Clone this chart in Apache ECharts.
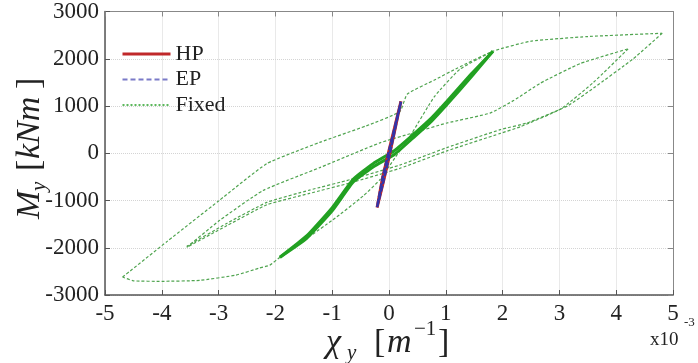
<!DOCTYPE html>
<html>
<head>
<meta charset="utf-8">
<script src="https://cdn.jsdelivr.net/npm/echarts@6/dist/echarts.min.js"></script>
<style>
  html, body { margin: 0; padding: 0; background: #fff; }
  #content { width: 698px; height: 363px; }
</style>
</head>
<body>
<div id="content"></div>
<script>
// curvature in 1e-3 1/m, moment in kNm

// HP / EP : small cycle around the origin
var hpChi = [-0.21, -0.1, 0.0, 0.1, 0.21, 0.11, 0.0, -0.11, -0.21];
var hpMom = [-1150, -610, -90, 470, 1100, 600, 60, -500, -1150];
var epChi = [-0.21, -0.1, 0.0, 0.1, 0.21, 0.11, 0.0, -0.11, -0.21];
var epMom = [-1140, -600, -80, 480, 1090, 590, 50, -510, -1140];

// Fixed : big cycle, loading branch (from -4.7 up to +4.8)
var bigLoadChi = [-4.69, -3.9, -3.0, -2.15, -1.22, -0.4, 0.19, 0.32, 0.8, 1.2, 1.83, 2.49, 3.5, 4.81];
var bigLoadMom = [-2620, -1860, -1010, -220, 230, 580, 880, 1250, 1550, 1800, 2160, 2370, 2470, 2540];
// Fixed : big cycle, unloading branch
var bigUnloadChi = [4.81, 4.3, 3.6, 3.14, 2.43, 1.96, 1.02, 0.19, -0.69, -1.4, -2.15, -2.85, -3.56];
var bigUnloadMom = [2540, 2000, 1380, 1000, 640, 500, 120, -250, -560, -780, -1040, -1480, -1970];
// Fixed : big cycle, bottom branch
var bigBottomChi = [-1.92, -2.1, -2.28, -2.7, -3.33, -4.0, -4.5, -4.69];
var bigBottomMom = [-2200, -2370, -2430, -2580, -2690, -2710, -2700, -2620];
// Fixed : second cycle (-3.6 .. +4.2)
var midLoadChi = [-3.56, -2.98, -2.22, -1.22, -0.16, 0.42, 1.02, 1.78, 2.2, 2.66, 3.37, 4.21];
var midLoadMom = [-1990, -1420, -790, -305, 220, 430, 640, 850, 1120, 1480, 1900, 2210];
var midUnloadChi = [4.21, 3.6, 3.02, 2.31, 1.96, 1.02, 0.19, -0.69, -1.4, -2.15, -2.85, -3.56];
var midUnloadMom = [2210, 1500, 935, 560, 420, 50, -320, -630, -850, -1090, -1530, -1990];
// Fixed : inner cycles (thick band, -1.9 .. +1.8)
var bandChi = [-1.92, -1.45, -1.0, -0.63, -0.28, 0.1, 0.42, 0.75, 1.02, 1.45, 1.83];
var bandUpMom = [-2200, -1750, -1150, -550, -220, 60, 390, 750, 1100, 1680, 2160];
var bandDnMom = [-2200, -1800, -1220, -610, -290, -20, 320, 680, 1030, 1620, 2160];
var steepChi = [-1.92, -1.0, -0.45, -0.16, 0.0, 0.4, 0.8, 1.25, 1.83];
var steepMom = [-2200, -1420, -900, -560, -280, 420, 1200, 1780, 2160];

var xTicks = [-5, -4, -3, -2, -1, 0, 1, 2, 3, 4, 5];
var yTicks = [-3000, -2000, -1000, 0, 1000, 2000, 3000];

var serif = 'Liberation Serif';

function pts(xs, ys) {
    return xs.map(function(x, i) { return [x, ys[i]]; });
}

function fixedLine(xs, ys, width, color, type) {
    return {
        name: 'Fixed',
        type: 'line',
        data: pts(xs, ys),
        symbol: 'none',
        smooth: 0.15,
        silent: true,
        lineStyle: { color: color, width: width, type: type },
        itemStyle: { color: color }
    };
}

function txt(x, y, s, font) {
    return { type: 'text', x: x, y: y, style: { text: s, font: font, fill: '#222', textVerticalAlign: 'middle' } };
}

var myChart = echarts.init(document.getElementById('content'), null, { renderer: 'canvas' });

var dashGreen = '#4fa44f';
var bandGreen = '#22a122';

myChart.setOption({
    animation: false,
    backgroundColor: '#fff',
    textStyle: { fontFamily: serif },
    grid: { left: 105, right: 25, top: 10, bottom: 68 },
    legend: {
        data: [
            { name: 'HP', lineStyle: { color: '#c0282a', width: 3 } },
            { name: 'EP', lineStyle: { color: '#7a7ac8', width: 2, type: [5, 3] } },
            { name: 'Fixed', lineStyle: { color: '#5cb85c', width: 2, type: [2, 2] } }
        ],
        orient: 'vertical',
        left: 116,
        top: 38,
        itemWidth: 48,
        itemHeight: 14,
        itemGap: 3.5,
        itemStyle: { opacity: 0 },
        textStyle: { fontFamily: serif, fontSize: 22, color: '#222', lineHeight: 22 }
    },
    xAxis: [{
        type: 'value',
        min: xTicks[0],
        max: xTicks[xTicks.length - 1],
        interval: 1,
        position: 'bottom',
        axisLine: { show: true, onZero: false, lineStyle: { color: '#555', width: 1.5 } },
        axisTick: { inside: true, length: 5, lineStyle: { color: '#555' } },
        axisLabel: { fontFamily: serif, fontSize: 23, color: '#222', margin: 7,
            formatter: function(v) { return String(v); } },
        splitLine: { show: true, lineStyle: { type: 'dotted', color: '#d4d4d4' } }
    }, {
        type: 'value',
        min: xTicks[0],
        max: xTicks[xTicks.length - 1],
        interval: 1,
        position: 'top',
        axisLine: { show: true, onZero: false, lineStyle: { color: '#888', width: 1 } },
        axisTick: { inside: true, length: 5, lineStyle: { color: '#888' } },
        axisLabel: { show: false },
        splitLine: { show: false }
    }],
    yAxis: [{
        type: 'value',
        min: yTicks[0],
        max: yTicks[yTicks.length - 1],
        interval: 1000,
        position: 'left',
        axisLine: { show: true, onZero: false, lineStyle: { color: '#555', width: 1.5 } },
        axisTick: { inside: true, length: 5, lineStyle: { color: '#555' } },
        axisLabel: { fontFamily: serif, fontSize: 23, color: '#222', margin: 6,
            formatter: function(v) { return String(v); } },
        splitLine: { show: true, lineStyle: { type: 'dotted', color: '#d4d4d4' } }
    }, {
        type: 'value',
        min: yTicks[0],
        max: yTicks[yTicks.length - 1],
        interval: 1000,
        position: 'right',
        axisLine: { show: true, onZero: false, lineStyle: { color: '#888', width: 1 } },
        axisTick: { inside: true, length: 5, lineStyle: { color: '#888' } },
        axisLabel: { show: false },
        splitLine: { show: false }
    }],
    series: [
        fixedLine(bigLoadChi, bigLoadMom, 1.2, dashGreen, [3, 2]),
        fixedLine(bigUnloadChi, bigUnloadMom, 1.2, dashGreen, [3, 2]),
        fixedLine(bigBottomChi, bigBottomMom, 1.2, dashGreen, [3, 2]),
        fixedLine(midLoadChi, midLoadMom, 1.2, dashGreen, [3, 2]),
        fixedLine(midUnloadChi, midUnloadMom, 1.2, dashGreen, [3, 2]),
        fixedLine(steepChi, steepMom, 1.2, dashGreen, [3, 2]),
        fixedLine(bandChi, bandUpMom, 3, bandGreen, 'solid'),
        fixedLine(bandChi, bandDnMom, 3, bandGreen, 'solid'),
        {
            name: 'HP',
            type: 'line',
            data: pts(hpChi, hpMom),
            symbol: 'none',
            silent: true,
            lineStyle: { color: '#c0282a', width: 3 },
            itemStyle: { color: '#c0282a' }
        },
        {
            name: 'EP',
            type: 'line',
            data: pts(epChi, epMom),
            symbol: 'none',
            silent: true,
            lineStyle: { color: '#3434a8', width: 2.5, type: [6, 2] },
            itemStyle: { color: '#3434a8' }
        }
    ],
    graphic: [
        // y axis title: M_y [kNm]
        {
            type: 'group',
            x: 30,
            y: 147,
            rotation: Math.PI / 2,
            children: [
                txt(-72, 0, 'M', 'italic 34px Liberation Serif'),
                txt(-44, 9, 'y', 'italic 21px Liberation Serif'),
                txt(-24, 0, '[', '34px Liberation Serif'),
                txt(-12, 0, 'kNm', 'italic 34px Liberation Serif'),
                txt(58, 0, ']', '34px Liberation Serif')
            ]
        },
        // x axis title: chi_y [m^-1]
        txt(326, 343, 'χ', 'italic 34px Liberation Serif'),
        txt(347, 353, 'y', 'italic 21px Liberation Serif'),
        txt(374, 343, '[', '34px Liberation Serif'),
        txt(387, 343, 'm', 'italic 34px Liberation Serif'),
        txt(414, 329, '−1', '21px Liberation Serif'),
        txt(438, 343, ']', '34px Liberation Serif'),
        // exponent of the x axis
        txt(650, 340, 'x10', '19px Liberation Serif'),
        txt(684, 323, '-3', '13px Liberation Serif')
    ]
});
</script>
</body>
</html>
